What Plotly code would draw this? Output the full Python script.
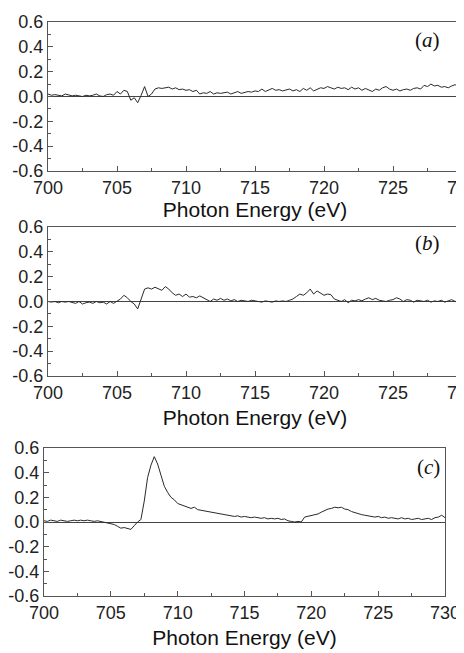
import numpy as np
import plotly.graph_objects as go

# Photon energy grid (eV), 0.25 eV steps
energy = list(np.round(np.arange(700.0, 730.001, 0.25), 2))

signal_a = [
    0.02, 0.01, 0.015, 0.01, 0.005, 0.02, 0.01, 0.005, 0.01, 0.005,
    0.0, 0.01, 0.005, 0.01, 0.02, 0.005, 0.0, 0.015, 0.02, 0.01,
    0.04, 0.02, 0.05, 0.04, -0.03, -0.01, -0.05, 0.01, 0.08, 0.0,
    0.02, 0.06, 0.07, 0.065, 0.07, 0.075, 0.06, 0.07, 0.055, 0.06,
    0.05, 0.055, 0.04, 0.05, 0.02, 0.03, 0.025, 0.04, 0.02, 0.03,
    0.025, 0.03, 0.035, 0.02, 0.03, 0.04, 0.025, 0.03, 0.04, 0.035,
    0.045, 0.04, 0.06, 0.04, 0.05, 0.065, 0.05, 0.055, 0.045, 0.05,
    0.06, 0.045, 0.055, 0.04, 0.065, 0.05, 0.07, 0.045, 0.06, 0.07,
    0.065, 0.08, 0.07, 0.06, 0.075, 0.065, 0.07, 0.055, 0.075, 0.06,
    0.07, 0.05, 0.065, 0.055, 0.04, 0.06, 0.05, 0.07, 0.08, 0.06,
    0.05, 0.06, 0.045, 0.055, 0.06, 0.05, 0.065, 0.07, 0.06, 0.09,
    0.08, 0.1, 0.085, 0.09, 0.075, 0.08, 0.07, 0.085, 0.095, 0.08,
    0.065,
]

signal_b = [
    0.0, -0.005, 0.0, -0.01, 0.0, -0.005, 0.0, -0.01, -0.015, 0.0,
    -0.02, -0.01, -0.005, -0.015, 0.0, -0.01, -0.005, -0.02, 0.0, -0.015,
    0.0, 0.02, 0.05, 0.03, 0.0, -0.02, -0.06, 0.03, 0.1, 0.11,
    0.1, 0.115, 0.1, 0.09, 0.12, 0.1, 0.07, 0.05, 0.06, 0.04,
    0.06, 0.035, 0.04, 0.03, 0.045, 0.03, 0.015, 0.0, 0.02, 0.01,
    0.025, 0.01, 0.02, 0.005, 0.015, 0.0, 0.01, 0.005, 0.0, 0.01,
    0.005, 0.0, -0.005, 0.005, 0.0, -0.005, 0.005, 0.0, 0.005, 0.0,
    0.01, 0.02, 0.04, 0.06, 0.05, 0.07, 0.1, 0.06, 0.085, 0.07,
    0.05, 0.06, 0.055, 0.02, 0.01, 0.0, 0.015, -0.01, 0.01, 0.005,
    0.015, 0.005, 0.02, 0.03, 0.015, 0.025, 0.01, 0.005, 0.0, 0.01,
    0.015, 0.03, 0.02, 0.0, 0.015, 0.01, -0.005, 0.01, 0.005, 0.0,
    0.01, -0.005, 0.005, 0.0, 0.01, -0.005, 0.005, 0.015, 0.0, 0.01,
    0.005,
]

signal_c = [
    0.01, 0.005, 0.015, 0.01, 0.005, 0.015, 0.01, 0.005, 0.01, 0.015,
    0.01, 0.015, 0.01, 0.015, 0.01, 0.005, 0.01, 0.005, 0.0, -0.005,
    -0.01, -0.02, -0.035, -0.05, -0.045, -0.055, -0.06, -0.03, 0.0, 0.02,
    0.17, 0.36, 0.46, 0.53, 0.47, 0.38, 0.29, 0.24, 0.2, 0.18,
    0.15, 0.14, 0.13, 0.125, 0.11, 0.12, 0.1, 0.095, 0.09, 0.085,
    0.08, 0.075, 0.07, 0.065, 0.06, 0.055, 0.05, 0.045, 0.05, 0.04,
    0.045, 0.04, 0.035, 0.04, 0.035, 0.03, 0.035, 0.025, 0.03, 0.025,
    0.03, 0.02, 0.025, 0.01, 0.005, 0.0, 0.005, 0.0, 0.04, 0.045,
    0.05, 0.06, 0.065, 0.08, 0.095, 0.105, 0.11, 0.12, 0.115, 0.12,
    0.105, 0.1, 0.085, 0.075, 0.065, 0.06, 0.055, 0.05, 0.045, 0.04,
    0.045, 0.035, 0.04, 0.03, 0.035, 0.03, 0.025, 0.035, 0.025, 0.03,
    0.02, 0.025, 0.03, 0.02, 0.025, 0.03, 0.02, 0.035, 0.04, 0.055,
    0.035,
]

panel_labels = ["a", "b", "c"]
x_title = "Photon Energy (eV)"
x_ticks = [700, 705, 710, 715, 720, 725, 730]
y_ticks = [-0.6, -0.4, -0.2, 0.0, 0.2, 0.4, 0.6]

# The page body has an 8px margin; size the figure to fit the window inside it
OFF = 8
W, H = 464 - OFF, 653 - OFF
# page-pixel boxes: (left, right, top, bottom)
boxes = [(48, 462, 22, 171), (48, 462, 227, 376), (44, 445, 448, 596)]
title_standoff = [4, 8, 8]
label_y_px = [40, 243, 467]


def px_x(p):
    return (p - OFF) / W


def px_y(p):
    return 1 - (p - OFF) / H


fig = go.Figure()
series = [signal_a, signal_b, signal_c]
axis_color = "#555555"
font_family = "Liberation Sans, Arial, sans-serif"

for i, (sig, box) in enumerate(zip(series, boxes)):
    n = "" if i == 0 else str(i + 1)
    l, r, t, b = box
    fig.add_trace(go.Scatter(
        x=energy, y=sig, mode="lines",
        line=dict(color="#2a2a2a", width=1),
        xaxis="x" + n, yaxis="y" + n, showlegend=False,
    ))
    xa = dict(
        domain=[px_x(l), min(px_x(r), 1.0)], anchor="y" + n, range=[700, 730],
        tickvals=x_ticks, ticktext=[str(v) for v in x_ticks],
        ticks="inside", ticklen=5, tickcolor=axis_color, tickwidth=1,
        minor=dict(ticks="inside", dtick=2.5, ticklen=3, tickcolor=axis_color),
        showline=True, linecolor=axis_color, linewidth=1.3, mirror=True,
        showgrid=False, zeroline=False, automargin=False,
        ticklabeloverflow="allow",
        tickfont=dict(family=font_family, size=18, color="#222222"),
        title=dict(text=x_title, font=dict(family=font_family, size=21, color="#111111"),
                   standoff=title_standoff[i]),
    )
    ya = dict(
        domain=[px_y(b), px_y(t)], anchor="x" + n, range=[-0.6, 0.6],
        tickvals=y_ticks, ticktext=["%.1f" % v for v in y_ticks],
        ticks="inside", ticklen=5, tickcolor=axis_color, tickwidth=1,
        minor=dict(ticks="inside", dtick=0.1, ticklen=3, tickcolor=axis_color),
        showline=True, linecolor=axis_color, linewidth=1.3, mirror=True,
        showgrid=False, zeroline=True, zerolinecolor="#444444", zerolinewidth=1.2,
        automargin=False, ticklabeloverflow="allow",
        tickfont=dict(family=font_family, size=18, color="#222222"),
    )
    fig.update_layout({"xaxis" + n: xa, "yaxis" + n: ya})
    fig.add_annotation(
        text="(<i>%s</i>)" % panel_labels[i],
        xref="paper", yref="paper",
        x=px_x(442), y=px_y(label_y_px[i]), xanchor="right", yanchor="middle", showarrow=False,
        font=dict(family="Liberation Serif, Times New Roman, serif", size=21, color="#111111"),
    )

fig.update_layout(
    width=W, height=H, margin=dict(l=0, r=0, t=0, b=0),
    paper_bgcolor="white", plot_bgcolor="white",
)

fig.write_html("out.html")
